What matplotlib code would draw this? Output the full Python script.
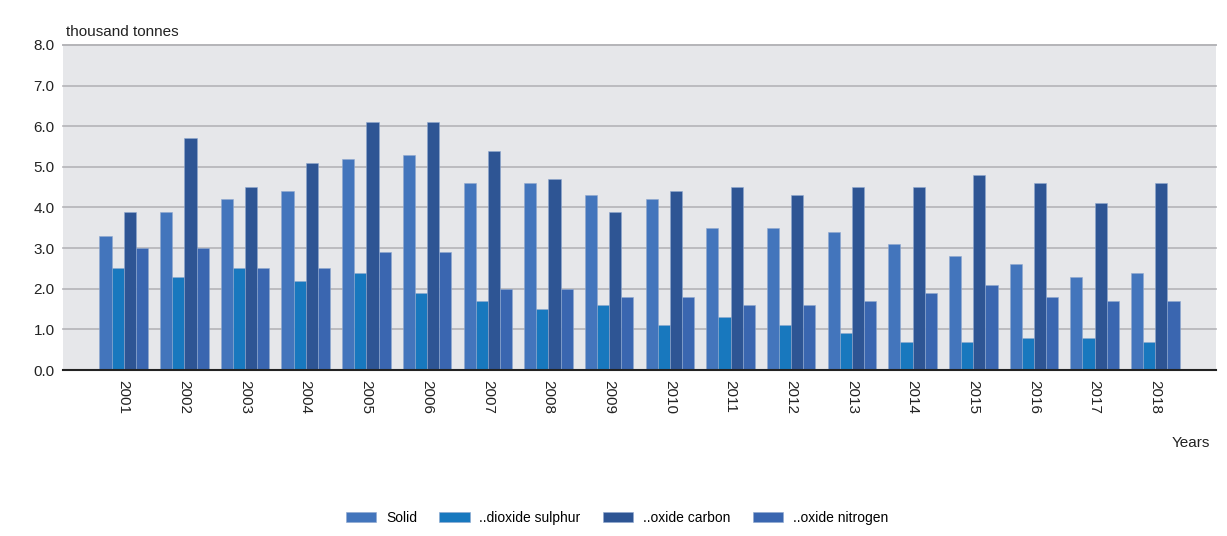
import matplotlib
matplotlib.use("Agg")
import matplotlib.pyplot as plt
import numpy as np

years = [str(y) for y in range(2001, 2019)]
solid = [3.3, 3.9, 4.2, 4.4, 5.2, 5.3, 4.6, 4.6, 4.3, 4.2, 3.5, 3.5, 3.4, 3.1, 2.8, 2.6, 2.3, 2.4]
sulphur = [2.5, 2.3, 2.5, 2.2, 2.4, 1.9, 1.7, 1.5, 1.6, 1.1, 1.3, 1.1, 0.9, 0.7, 0.7, 0.8, 0.8, 0.7]
carbon = [3.9, 5.7, 4.5, 5.1, 6.1, 6.1, 5.4, 4.7, 3.9, 4.4, 4.5, 4.3, 4.5, 4.5, 4.8, 4.6, 4.1, 4.6]
nitrogen = [3.0, 3.0, 2.5, 2.5, 2.9, 2.9, 2.0, 2.0, 1.8, 1.8, 1.6, 1.6, 1.7, 1.9, 2.1, 1.8, 1.7, 1.7]
series_names = ["Solid", "..dioxide sulphur", "..oxide carbon", "..oxide nitrogen"]
colors = ["#4375BC", "#1878BE", "#2E5594", "#3A66B0"]

plt.rcParams['font.family'] = ['Liberation Sans', 'DejaVu Sans']

fig = plt.figure(figsize=(12.27, 5.36), dpi=100)
ax = fig.add_axes([63/1227, 166/536, (1216-63)/1227, (491-166)/536])
ax.set_facecolor("#E6E7EA")

x = np.arange(1, len(years) + 1)
w = 0.2
for i, (vals, name, c) in enumerate(zip([solid, sulphur, carbon, nitrogen], series_names, colors)):
    ax.bar(x + (i - 1.5) * w, vals, width=w, color=c, label=name, zorder=3,
           edgecolor="#8FA8CF", linewidth=0.4)

ax.set_xlim(0, 19)
ax.set_ylim(0, 8)
ax.set_yticks(np.arange(0, 8.1, 1.0))
ax.set_yticklabels([f"{v:.1f}" for v in np.arange(0, 8.1, 1.0)], fontsize=11, color="#222222")
ax.yaxis.grid(True, color="#B4B4B8", linewidth=1.2, zorder=1, clip_on=False)
ax.set_axisbelow(True)
ax.set_xticks(x)
ax.set_xticklabels(years, rotation=270, fontsize=11, color="#222222")
ax.tick_params(axis="both", length=0, pad=6)
ax.tick_params(axis="x", pad=7)
for s in ["right", "left"]:
    ax.spines[s].set_visible(False)
ax.spines["top"].set_color("#B4B4B8")
ax.spines["top"].set_linewidth(1.2)
ax.spines["bottom"].set_color("#222222")
ax.spines["bottom"].set_linewidth(1.5)
ax.spines["bottom"].set_zorder(4)

fig.text(66/1227, 1 - 32/536, "thousand tonnes", fontsize=11, color="#222222", va="center", ha="left")
fig.text(1210/1227, 1 - 443/536, "Years", fontsize=11, color="#222222", va="center", ha="right")

fig.legend(loc="center", bbox_to_anchor=(617/1227, 1 - 518/536), ncol=4, frameon=False,
           fontsize=10, handlelength=2.2, handleheight=0.8, columnspacing=1.6, handletextpad=0.7)

fig.savefig("out.png", dpi=100, facecolor="white")
